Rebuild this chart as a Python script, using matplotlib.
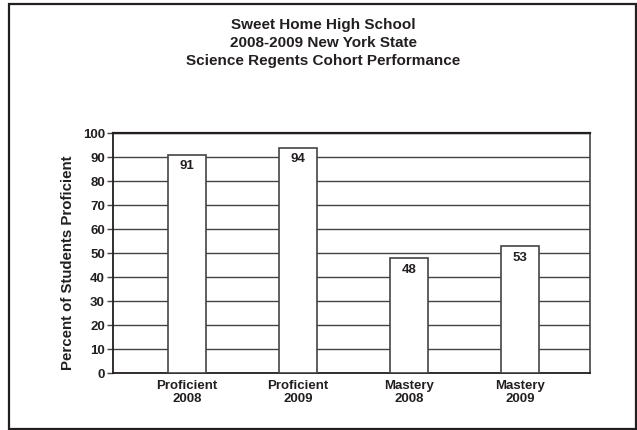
import matplotlib.pyplot as plt
import matplotlib.patches as mpatches

plt.rcParams["font.family"] = ["Liberation Sans", "DejaVu Sans"]

# data
categories = ["Proficient\n2008", "Proficient\n2009", "Mastery\n2008", "Mastery\n2009"]
values = [91, 94, 48, 53]
y_ticks = [0, 10, 20, 30, 40, 50, 60, 70, 80, 90, 100]
title = "Sweet Home High School\n2008-2009 New York State\nScience Regents Cohort Performance"
ylabel = "Percent of Students Proficient"

INK = "#231f20"
GRID = "#444444"

fig = plt.figure(figsize=(6.37, 4.30), dpi=100)
fig.patch.set_facecolor("white")

# outer frame around the whole chart
frame = mpatches.Rectangle((9 / 637, 1 / 430), 627 / 637, 425 / 430,
                           transform=fig.transFigure, fill=False,
                           edgecolor=INK, linewidth=1.6)
fig.add_artist(frame)

ax = fig.add_axes([113.3 / 637, 1 - 373.3 / 430, (590 - 113.3) / 637, (373.3 - 133.3) / 430])

x = range(len(categories))
ax.set_axisbelow(True)
ax.grid(axis="y", color=GRID, linewidth=1.0)
bars = ax.bar(x, values, width=0.34, color="white", edgecolor=GRID, linewidth=1.2, zorder=3)

for xi, v in zip(x, values):
    ax.annotate(f"{v}", (xi, v), xytext=(0, -4), textcoords="offset points",
                ha="center", va="top", fontsize=9.5, fontweight="bold", color=INK, zorder=4)

ax.set_xlim(-0.666, 3.629)
ax.set_ylim(0, 100)
ax.set_yticks(y_ticks)
ax.set_xticks(list(x))
ax.set_xticklabels(categories, fontsize=9.5, fontweight="bold", color=INK, linespacing=1.1)
ax.tick_params(axis="x", length=0, pad=5)
ax.tick_params(axis="y", length=4, width=1, color=GRID, pad=2, labelsize=9.5, labelcolor=INK)
for lbl in ax.get_yticklabels():
    lbl.set_fontweight("bold")

ax.set_ylabel(ylabel, fontsize=10.8, fontweight="bold", color=INK, va="center")
ax.yaxis.set_label_coords(-0.095, 0.46)

for side in ["left", "bottom"]:
    ax.spines[side].set_color(INK)
    ax.spines[side].set_linewidth(1.3)
ax.spines["top"].set_color(INK)
ax.spines["top"].set_linewidth(1.6)
ax.spines["right"].set_color(GRID)
ax.spines["right"].set_linewidth(1.2)

fig.text(323 / 637, 1 - 18 / 430, title, ha="center", va="top",
         fontsize=11, fontweight="bold", color=INK, linespacing=1.38)

fig.savefig("out.png", dpi=100, facecolor="white")
